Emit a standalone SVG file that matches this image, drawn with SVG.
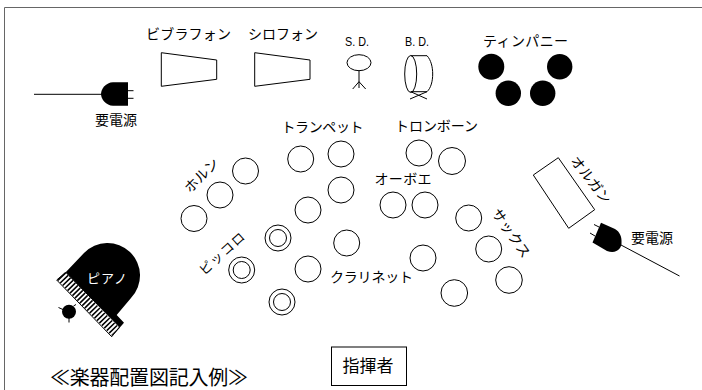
<svg xmlns="http://www.w3.org/2000/svg" width="702" height="390" viewBox="0 0 702 390">
<style>
.s{fill:none;stroke:#000;stroke-width:1}
.w{fill:#fff;stroke:#000;stroke-width:1}
.k{fill:#000;stroke:none}
text{font-family:"Noto Sans CJK JP","Noto Sans",sans-serif;fill:#000;text-anchor:middle;dominant-baseline:auto}
.t{font-size:14px}
.n{font-size:13px;font-family:"Liberation Sans",sans-serif}
</style>
<defs>
<circle id="c" r="13" class="s"/>
<g id="d"><circle r="13" class="s"/><circle r="8.5" class="s"/></g>
</defs>
<rect width="702" height="390" fill="#fff"/>
<path d="M702 7.5H4.5V390" fill="none" stroke="#666" stroke-width="1"/>
<g id="connectors">
<path class="s" d="M34 94.3H102"/>
<path class="s" d="M621 245L679.5 276"/>
</g>
<g id="plug-left"><path class="k" d="M128 82.3H113C106 82.3 101 89 101 94C101 99 106 105.7 113 105.7H128Z"/><path class="s" d="M128 90.7H133.5M128 98.3H133.5"/><text class="t" x="116" y="125" textLength="42" lengthAdjust="spacingAndGlyphs">要電源</text></g>
<g id="plug-right"><path class="k" d="M601 222.7L592.5 242.5L607 251C617 255 622 247 621.5 243C622 237 620 232 615 229Z"/><path class="s" d="M599 227L594 224.5M595 236L590 233"/><text class="t" x="652" y="243" textLength="42" lengthAdjust="spacingAndGlyphs">要電源</text></g>
<g id="vibraphone"><polygon class="s" points="161.3,52.7 216.7,60 216.7,79.3 161.3,86.3"/><text class="t" x="188.5" y="39" textLength="85">ビブラフォン</text></g>
<g id="xylophone"><polygon class="s" points="254.7,52.7 310,60 310,79.3 254.7,86.3"/><text class="t" x="283" y="39" textLength="70">シロフォン</text></g>
<g id="snare"><ellipse class="s" cx="359" cy="62.7" rx="12" ry="8"/><path class="s" d="M359 70.7V88M352.7 89L359 81.7L365.7 89"/><text class="n" x="357" y="46" textLength="24" lengthAdjust="spacingAndGlyphs">S. D.</text></g>
<g id="bass-drum"><ellipse class="s" cx="410.7" cy="74" rx="6" ry="18.5"/><path class="s" d="M410.7 55.7H427C431 60 432.7 67 432.7 74C432.7 81 431 88 427 91.7H410.7M410 99L427 91.7M410.7 91.7L427 99"/><text class="n" x="417" y="46" textLength="24" lengthAdjust="spacingAndGlyphs">B. D.</text></g>
<g id="timpani"><circle class="k" cx="491.3" cy="66.7" r="13"/><circle class="k" cx="559.7" cy="66.7" r="12.7"/><circle class="k" cx="508.3" cy="93.3" r="12.7"/><circle class="k" cx="542.7" cy="93.3" r="12.7"/><text class="t" x="525.5" y="46" textLength="85">ティンパニー</text></g>
<g id="horn"><use href="#c" x="245.5" y="171"/><use href="#c" x="220" y="195"/><use href="#c" x="194" y="218.5"/><text class="t" transform="translate(205,179) rotate(-45)" textLength="42">ホルン</text></g>
<g id="trumpet"><use href="#c" x="300.7" y="159"/><use href="#c" x="341" y="154"/><use href="#c" x="341" y="190"/><use href="#c" x="308" y="210"/><text class="t" x="322.5" y="132" textLength="82">トランペット</text></g>
<g id="trombone"><use href="#c" x="419" y="153"/><circle class="s" cx="452" cy="161" r="13.5"/><text class="t" x="436.5" y="131" textLength="83">トロンボーン</text></g>
<g id="oboe"><use href="#c" x="393" y="205"/><use href="#c" x="425" y="205"/><text class="t" x="403" y="184" textLength="57">オーボエ</text></g>
<g id="clarinet"><use href="#c" x="346.7" y="243"/><use href="#c" x="308" y="269"/><use href="#c" x="423" y="258"/><text class="t" x="371.5" y="282" textLength="83">クラリネット</text></g>
<g id="piccolo"><use href="#d" x="278" y="238"/><use href="#d" x="241.7" y="270"/><use href="#d" x="282" y="302"/><text class="t" style="font-size:13px" transform="translate(225,257) rotate(-42)" textLength="56">ピッコロ</text></g>
<g id="saxophone"><use href="#c" x="468.7" y="218"/><use href="#c" x="488.7" y="249"/><circle class="s" cx="509" cy="280" r="13.3"/><circle class="s" cx="454.3" cy="293" r="13.3"/><text class="t" transform="translate(507,236) rotate(55)" textLength="56">サックス</text></g>
<g id="organ"><polygon class="s" points="558.3,157.7 533.3,175 568.7,228.3 594.7,209.7"/><text class="t" transform="translate(587,183) rotate(52)" textLength="56">オルガン</text></g>
<g id="piano"><path class="k" d="M65.7 272.3L84 253A32 32 0 0 1 131 298L116.7 315L124 322.7L111.7 336.7Z"/><polygon fill="#fff" stroke="#000" points="56.7,280 65.7,272.3 119.5,327 111.7,336.7"/><path d="M61.2 276.2L115.6 331.8" fill="none" stroke="#000" stroke-width="11" stroke-dasharray="1.5 2"/><text x="107" y="283" style="font-size:13px;fill:#fff" textLength="40">ピアノ</text></g>
<g id="player"><circle class="k" cx="69" cy="311.7" r="7"/><path class="s" d="M58.5 307.5L64 310M69 318V322.5M73.5 306L76 304.5"/></g>
<g id="conductor"><rect class="s" x="331.5" y="347" width="75" height="38.5"/><text x="368" y="372" style="font-size:17px" textLength="51">指揮者</text></g>
<text id="title" x="149" y="385" style="font-size:20px" textLength="198">≪楽器配置図記入例≫</text>
</svg>
